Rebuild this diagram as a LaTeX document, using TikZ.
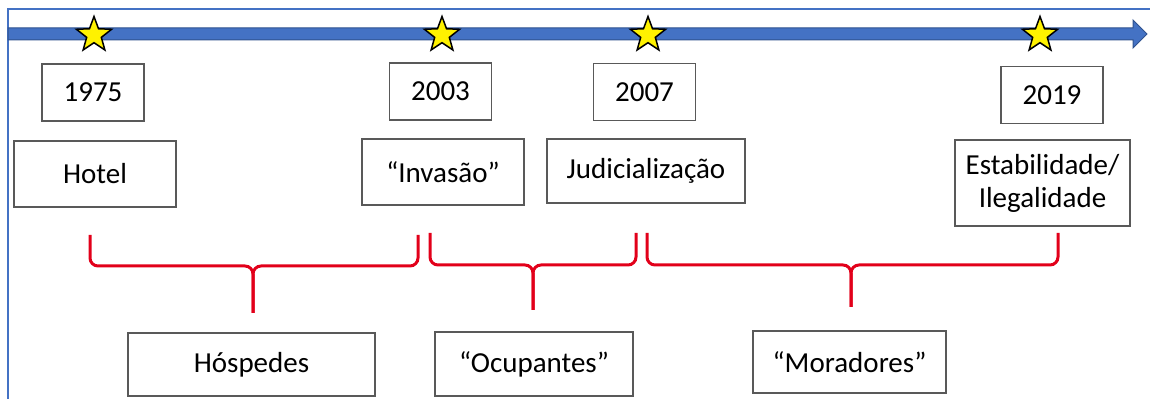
\documentclass[tikz,border=0pt]{standalone}
\usepackage{fontspec}
\setmainfont{Carlito}
\usetikzlibrary{shapes.geometric}

\definecolor{lineblue}{RGB}{68,114,196}
\definecolor{darkblue}{RGB}{47,82,143}
\definecolor{bracered}{RGB}{226,0,26}
\definecolor{boxgray}{RGB}{89,89,89}

\tikzset{
    box/.style={shape=rectangle, draw=boxgray, line width=0.75pt, align=center, inner sep=2pt},
    yearbox/.style={box, minimum width=51pt, minimum height=28.5pt},
    yellowstar/.style={shape=star, star points=5, star point ratio=2.4, minimum size=18.5pt,
        inner sep=0pt, draw=black, line width=0.75pt, fill=yellow},
    curly/.style={draw=bracered, line width=1.5pt, rounded corners=4pt},
}

\begin{document}
\begin{tikzpicture}[x=0.5pt, y=-0.5pt, font=\fontsize{14.5}{16.5}\selectfont]

    \useasboundingbox (0,0) rectangle (1150,399);

    % frame and time axis
    \draw[lineblue, line width=1pt] (8,399) -- (8,9) -- (1150,9);
    \draw[darkblue, fill=lineblue, line width=0.5pt]
        (8,28) -- (1133,28) -- (1133,20) -- (1147,34) -- (1133,48) -- (1133,40) -- (8,40) -- cycle;

    \node[yellowstar] (S1975) at (94,35) {};
    \node[yellowstar] (S2003) at (442,35) {};
    \node[yellowstar] (S2007) at (648,35) {};
    \node[yellowstar] (S2019) at (1040,35) {};

    \node[yearbox] (Y1975) at (93,92.5) {1975};
    \node[yearbox] (Y2003) at (440.5,91.5) {2003};
    \node[yearbox] (Y2007) at (644.5,92) {2007};
    \node[yearbox] (Y2019) at (1052,95) {2019};


    \node[box, minimum width=81pt, minimum height=33pt] (Hotel) at (95,174) {Hotel};
    \node[box, minimum width=81pt, minimum height=33pt] (Invasao) at (443,172) {“Invasão”};
    \node[box, minimum width=99pt, minimum height=32pt] (Judic) at (646,171) {Judicialização};
    \node[box, minimum width=87.5pt, minimum height=43pt] (Estab) at (1042.5,183) {
        Estabilidade/ \\
        Ilegalidade
    };

    \node[box, minimum width=123.5pt, minimum height=31.5pt] (Hospedes) at (251.5,364.5) {Hóspedes};
    \node[box, minimum width=99pt, minimum height=32pt] (Ocupantes) at (534,364) {“Ocupantes”};
    \node[box, minimum width=96.5pt, minimum height=31pt] (Moradores) at (849.5,362) {“Moradores”};


    % braces
    \draw[curly] (90,235) |- (253,266) -- (253,313);
    \draw[curly] (418,235) |- (253,266) -- (253,313);

    \draw[curly] (430,233) |- (533,265) -- (533,310);
    \draw[curly] (636,233) |- (533,265) -- (533,310);

    \draw[curly] (647,233) |- (851,265) -- (851,307);
    \draw[curly] (1058,233) |- (851,265) -- (851,307);

\end{tikzpicture}
\end{document}
